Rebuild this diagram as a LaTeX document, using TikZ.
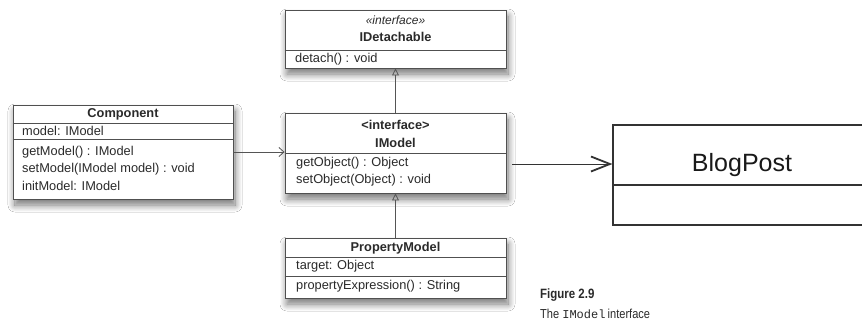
\documentclass[tikz,border=0pt]{standalone}
\usepackage{fontspec}
\setmainfont{Liberation Sans}
\newfontfamily\capfont[FakeStretch=0.85]{Liberation Sans}
\newfontfamily\capmono{Liberation Mono}
\usetikzlibrary{arrows.meta,shadows.blur}
\definecolor{boxgray}{HTML}{505050}
\definecolor{txtgray}{HTML}{2A2A2A}
\definecolor{linegray}{HTML}{555555}
\tikzset{
  umlbox/.style={draw=boxgray, fill=white, line width=0.9pt, inner sep=0pt,
    blur shadow={shadow xshift=2pt, shadow yshift=-6pt, shadow blur radius=7pt, shadow blur steps=12, shadow opacity=55}},
  sepline/.style={draw=boxgray, line width=0.9pt},
  lbl/.style={text=txtgray, inner sep=0pt, font=\fontsize{12.8}{14}\selectfont},
  hdr/.style={lbl, font=\fontsize{12.8}{14}\selectfont\bfseries},
  stereo/.style={lbl, font=\fontsize{12}{14}\selectfont\itshape},
  conn/.style={draw=linegray, line width=0.9pt},
  gen/.style={conn, -{Triangle[open, length=7pt, width=7pt, line width=0.8pt]}},
  dep/.style={conn, -{Straight Barb[length=5pt, width=9pt, line width=0.8pt]}},
}
\begin{document}
\begin{tikzpicture}[x=1pt,y=-1pt]
\useasboundingbox (0,0) rectangle (862,327);
\clip (0,0) rectangle (862,327);
\fill[white] (0,0) rectangle (862,327);

% IDetachable
\node[umlbox, minimum width=221pt, minimum height=58pt] (idet) at (395.5,39) {};
\draw[sepline] (idet.west |- 0,50) -- (idet.east |- 0,50);
\node[stereo] (idetst) at (395.5,20) {«interface»};
\node[hdr] (idetnm) at (395.5,37) {IDetachable};
\node[lbl, anchor=west] (idetm) at (295,59) {detach() : void};

% IModel
\node[umlbox, minimum width=221pt, minimum height=80pt] (imodel) at (395.5,153) {};
\draw[sepline] (imodel.west |- 0,153) -- (imodel.east |- 0,153);
\node[hdr] (imst) at (395.5,125) {<interface>};
\node[hdr] (imnm) at (395.5,143) {IModel};
\node[lbl, anchor=west] (im1) at (296,163) {getObject() : Object};
\node[lbl, anchor=west] (im2) at (296,180) {setObject(Object) : void};

% Component
\node[umlbox, minimum width=220pt, minimum height=94pt] (comp) at (123,152) {};
\draw[sepline] (comp.west |- 0,123) -- (comp.east |- 0,123);
\draw[sepline] (comp.west |- 0,139) -- (comp.east |- 0,139);
\node[hdr] (compnm) at (123,114) {Component};
\node[lbl, anchor=west] (compa) at (22,131) {model: IModel};
\node[lbl, anchor=west] (comp1) at (22,152) {getModel() : IModel};
\node[lbl, anchor=west] (comp2) at (22,169) {setModel(IModel model) : void};
\node[lbl, anchor=west] (comp3) at (22,186) {initModel: IModel};

% PropertyModel
\node[umlbox, minimum width=221pt, minimum height=60pt] (pm) at (395.5,268) {};
\draw[sepline] (pm.west |- 0,257) -- (pm.east |- 0,257);
\draw[sepline] (pm.west |- 0,276) -- (pm.east |- 0,276);
\node[hdr] (pmnm) at (395.5,248) {PropertyModel};
\node[lbl, anchor=west] (pma) at (296,266) {target: Object};
\node[lbl, anchor=west] (pm1) at (296,286) {propertyExpression() : String};

% BlogPost
\node[draw=black!80, line width=1.2pt, fill=white, minimum width=262pt, minimum height=100pt, inner sep=0pt] (blog) at (744,175) {};
\draw[draw=black!80, line width=1.2pt] (blog.west |- 0,185) -- (blog.east |- 0,185);
\node[inner sep=0pt, font=\fontsize{25}{28}\selectfont, text=black!90, anchor=base] (blognm) at (742,171) {BlogPost};

% connectors
\draw[dep] (comp.east) -- (comp.east -| imodel.west);
\draw[gen] (imodel.north) -- (idet.south);
\draw[gen] (pm.north) -- (imodel.south);
\coordinate (bpstart) at (512,164);
\draw[draw=black!80, line width=1pt, -{Straight Barb[length=19pt, width=15pt, line width=1.8pt]}] (bpstart) -- (bpstart -| blog.west);

% caption
\node[anchor=base west, inner sep=0pt, font=\capfont\fontsize{13.5}{15}\selectfont\bfseries, text=txtgray] (capt1) at (540,298) {Figure 2.9};
\node[anchor=base west, inner sep=0pt, font=\capfont\fontsize{13}{15}\selectfont, text=txtgray] (capt2) at (540,318) {The {\capmono\fontsize{12}{15}\selectfont IModel}\,interface};
\end{tikzpicture}
\end{document}
